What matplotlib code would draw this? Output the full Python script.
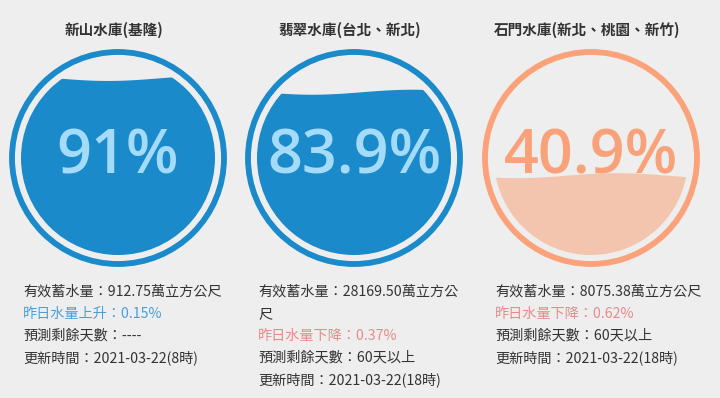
import matplotlib.pyplot as plt
import numpy as np
from matplotlib.patches import Circle, Polygon

plt.rcParams['font.family'] = ['Noto Sans CJK TC', 'DejaVu Sans']

names = ['新山水庫(基隆)', '翡翠水庫(台北、新北)', '石門水庫(新北、桃園、新竹)']
percent = [91, 83.9, 40.9]
pct_label = ['91%', '83.9%', '40.9%']
storage = [['有效蓄水量：912.75萬立方公尺'],
           ['有效蓄水量：28169.50萬立方公', '尺'],
           ['有效蓄水量：8075.38萬立方公尺']]
change = ['昨日水量上升：0.15%', '昨日水量下降：0.37%', '昨日水量下降：0.62%']
change_up = [True, False, False]
days = ['預測剩餘天數：----', '預測剩餘天數：60天以上', '預測剩餘天數：60天以上']
updated = ['更新時間：2021-03-22(8時)', '更新時間：2021-03-22(18時)',
           '更新時間：2021-03-22(18時)']

# ring, fill, text colour per gauge
ring_c = ['#1a8acb', '#1a8acb', '#fba27a']
fill_c = ['#1a8acb', '#1a8acb', '#f3c5ae']
text_c = ['#a4dbf8', '#a4dbf8', '#f9a27a']
centers = [118, 354, 591]
cy = 158
R = 106
r_in = 97

fig = plt.figure(figsize=(7.2, 3.98), dpi=100)
fig.patch.set_facecolor('#eeeeee')
ax = fig.add_axes([0, 0, 1, 1])
ax.set_xlim(0, 720)
ax.set_ylim(398, 0)
ax.axis('off')

for i, cx in enumerate(centers):
    ax.text(cx - 4, 30, names[i], ha='center', va='center', fontsize=10.5,
            fontweight='bold', color='#333333')
    ax.add_patch(Circle((cx, cy), R, fill=False, ec=ring_c[i], lw=4.2))

    # water level inside inner circle
    level = cy + r_in - percent[i] / 100 * 2 * r_in
    xs = np.linspace(cx - r_in, cx + r_in, 100)
    wave = level + 2.5 * np.sin((xs - cx + 60) / 200 * 2 * np.pi + i)
    verts = list(zip(xs, wave)) + [(cx + r_in, cy + r_in + 5), (cx - r_in, cy + r_in + 5)]
    water = Polygon(verts, closed=True, fc=fill_c[i], ec='none')
    ax.add_patch(water)
    clip = Circle((cx, cy), r_in, transform=ax.transData)
    water.set_clip_path(clip)

    ax.text(cx, cy, pct_label[i], ha='center', va='center', fontsize=44,
            fontweight='semibold', color=text_c[i],
            family=['Open Sans', 'DejaVu Sans'])

# info lines below gauges
left_x = [23, 258, 495]
step = 22
for i, lx in enumerate(left_x):
    lines = storage[i] + [change[i], days[i], updated[i]]
    colors = ['#333333'] * len(storage[i]) + \
        ['#4a9fd8' if change_up[i] else '#e88a8a', '#333333', '#333333']
    for k, (s, c) in enumerate(zip(lines, colors)):
        ax.text(lx, 292 + k * step, s, ha='left', va='center', fontsize=10.2,
                color=c)

fig.savefig('out.png', dpi=100, facecolor=fig.get_facecolor())
